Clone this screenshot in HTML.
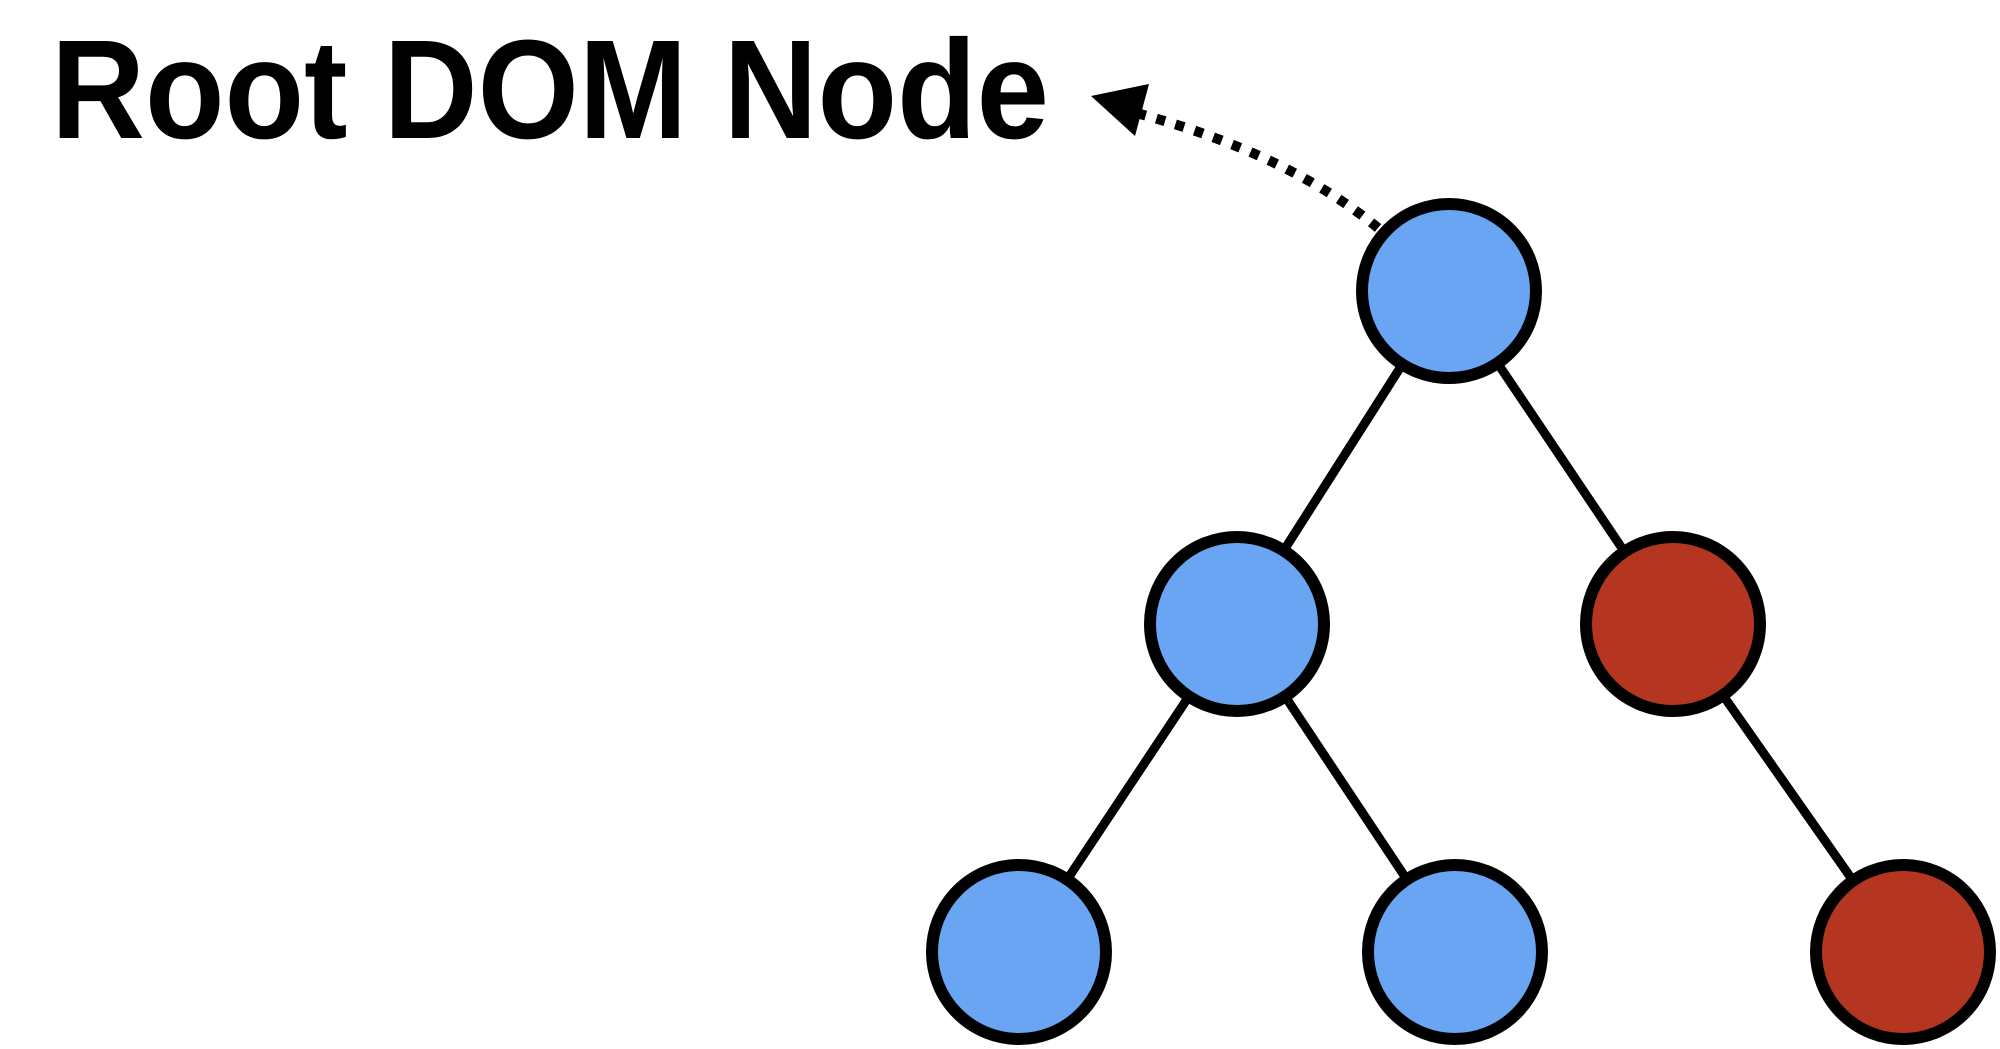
<!DOCTYPE html>
<html><head><style>html,body{margin:0;padding:0;background:#fff;}svg{display:block}</style></head>
<body>
<svg width="2000" height="1049" viewBox="0 0 2000 1049" xmlns="http://www.w3.org/2000/svg">
<g stroke="#000" stroke-width="9">
<line x1="1449" y1="291" x2="1237" y2="624"/>
<line x1="1449" y1="291" x2="1673" y2="624"/>
<line x1="1237" y1="624" x2="1019" y2="952"/>
<line x1="1237" y1="624" x2="1455" y2="952"/>
<line x1="1673" y1="624" x2="1903" y2="952"/>
</g>
<g stroke="#000" stroke-width="12">
<circle cx="1449" cy="291" r="87" fill="#69a5f2"/>
<circle cx="1237" cy="624" r="87" fill="#69a5f2"/>
<circle cx="1673" cy="624" r="87" fill="#b53620"/>
<circle cx="1019" cy="952" r="87" fill="#69a5f2"/>
<circle cx="1455" cy="952" r="87" fill="#69a5f2"/>
<circle cx="1903" cy="952" r="87" fill="#b53620"/>
</g>
<path d="M1378,228 Q1290,155 1140,114" fill="none" stroke="#000" stroke-width="10" stroke-dasharray="9 11"/>
<polygon points="1091,96 1149,84 1135,136" fill="#000"/>
<text x="51" y="138" font-family="Liberation Sans, sans-serif" font-weight="bold" font-size="141" textLength="998" lengthAdjust="spacingAndGlyphs">Root DOM Node</text>
</svg>
</body></html>
